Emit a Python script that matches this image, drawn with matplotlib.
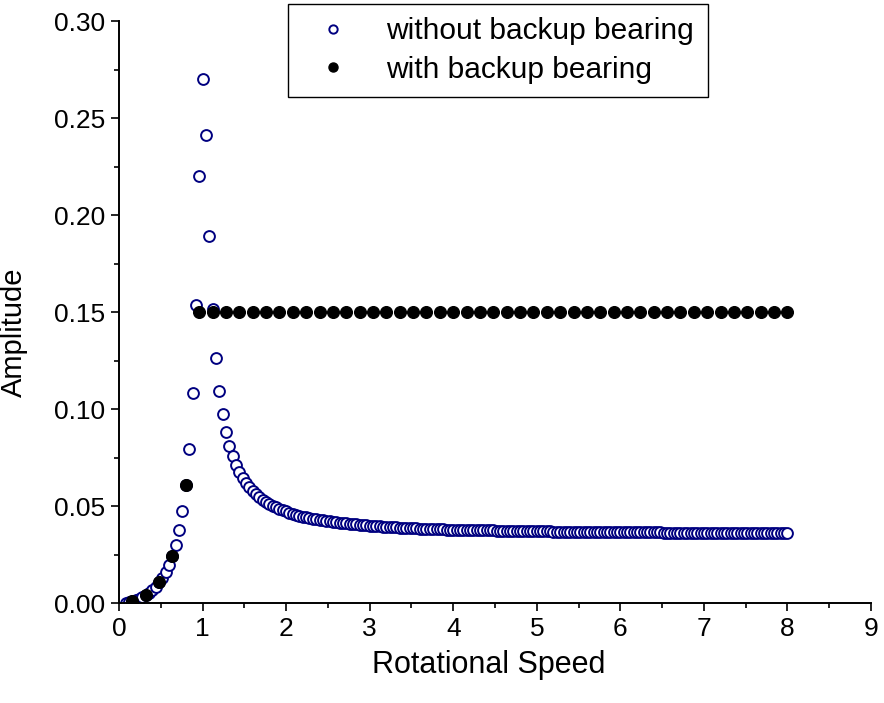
import matplotlib
matplotlib.use('Agg')
import matplotlib.pyplot as plt
from matplotlib.ticker import MultipleLocator, FormatStrFormatter

plt.rcParams['font.family'] = ['Liberation Sans', 'DejaVu Sans']

# amplitude without backup bearing (open circles)
x_open = [0.08, 0.12, 0.16, 0.20, 0.24, 0.28, 0.32, 0.36, 0.40, 0.44,
          0.48, 0.52, 0.56, 0.60, 0.64, 0.68, 0.72, 0.76, 0.80, 0.84,
          0.88, 0.92, 0.96, 1.00, 1.04, 1.08, 1.12, 1.16, 1.20, 1.24,
          1.28, 1.32, 1.36, 1.40, 1.44, 1.48, 1.52, 1.56, 1.60, 1.64,
          1.68, 1.72, 1.76, 1.80, 1.84, 1.88, 1.92, 1.96, 2.00, 2.04,
          2.08, 2.12, 2.16, 2.20, 2.24, 2.28, 2.32, 2.36, 2.40, 2.44,
          2.48, 2.52, 2.56, 2.60, 2.64, 2.68, 2.72, 2.76, 2.80, 2.84,
          2.88, 2.92, 2.96, 3.00, 3.04, 3.08, 3.12, 3.16, 3.20, 3.24,
          3.28, 3.32, 3.36, 3.40, 3.44, 3.48, 3.52, 3.56, 3.60, 3.64,
          3.68, 3.72, 3.76, 3.80, 3.84, 3.88, 3.92, 3.96, 4.00, 4.04,
          4.08, 4.12, 4.16, 4.20, 4.24, 4.28, 4.32, 4.36, 4.40, 4.44,
          4.48, 4.52, 4.56, 4.60, 4.64, 4.68, 4.72, 4.76, 4.80, 4.84,
          4.88, 4.92, 4.96, 5.00, 5.04, 5.08, 5.12, 5.16, 5.20, 5.24,
          5.28, 5.32, 5.36, 5.40, 5.44, 5.48, 5.52, 5.56, 5.60, 5.64,
          5.68, 5.72, 5.76, 5.80, 5.84, 5.88, 5.92, 5.96, 6.00, 6.04,
          6.08, 6.12, 6.16, 6.20, 6.24, 6.28, 6.32, 6.36, 6.40, 6.44,
          6.48, 6.52, 6.56, 6.60, 6.64, 6.68, 6.72, 6.76, 6.80, 6.84,
          6.88, 6.92, 6.96, 7.00, 7.04, 7.08, 7.12, 7.16, 7.20, 7.24,
          7.28, 7.32, 7.36, 7.40, 7.44, 7.48, 7.52, 7.56, 7.60, 7.64,
          7.68, 7.72, 7.76, 7.80, 7.84, 7.88, 7.92, 7.96, 8.00]
y_open = [0.0002, 0.0005, 0.0009, 0.0015, 0.0022, 0.0030, 0.0040, 0.0053, 0.0067, 0.0085,
          0.0106, 0.0131, 0.0161, 0.0198, 0.0244, 0.0301, 0.0375, 0.0472, 0.0606, 0.0796,
          0.1084, 0.1537, 0.2201, 0.2699, 0.2411, 0.1893, 0.1515, 0.1264, 0.1094, 0.0972,
          0.0881, 0.0811, 0.0756, 0.0712, 0.0675, 0.0645, 0.0619, 0.0597, 0.0577, 0.0561,
          0.0546, 0.0533, 0.0521, 0.0511, 0.0501, 0.0493, 0.0485, 0.0478, 0.0472, 0.0466,
          0.0460, 0.0455, 0.0450, 0.0446, 0.0442, 0.0438, 0.0435, 0.0432, 0.0429, 0.0426,
          0.0423, 0.0421, 0.0418, 0.0416, 0.0414, 0.0412, 0.0410, 0.0408, 0.0406, 0.0405,
          0.0403, 0.0402, 0.0400, 0.0399, 0.0398, 0.0396, 0.0395, 0.0394, 0.0393, 0.0392,
          0.0391, 0.0390, 0.0389, 0.0388, 0.0387, 0.0387, 0.0386, 0.0385, 0.0384, 0.0384,
          0.0383, 0.0382, 0.0382, 0.0381, 0.0381, 0.0380, 0.0379, 0.0379, 0.0378, 0.0378,
          0.0377, 0.0377, 0.0377, 0.0376, 0.0376, 0.0375, 0.0375, 0.0375, 0.0374, 0.0374,
          0.0374, 0.0373, 0.0373, 0.0373, 0.0372, 0.0372, 0.0372, 0.0371, 0.0371, 0.0371,
          0.0371, 0.0370, 0.0370, 0.0370, 0.0369, 0.0369, 0.0369, 0.0369, 0.0368, 0.0368,
          0.0368, 0.0368, 0.0368, 0.0367, 0.0367, 0.0367, 0.0367, 0.0367, 0.0367, 0.0366,
          0.0366, 0.0366, 0.0366, 0.0366, 0.0366, 0.0365, 0.0365, 0.0365, 0.0365, 0.0365,
          0.0365, 0.0365, 0.0364, 0.0364, 0.0364, 0.0364, 0.0364, 0.0364, 0.0364, 0.0364,
          0.0364, 0.0363, 0.0363, 0.0363, 0.0363, 0.0363, 0.0363, 0.0363, 0.0363, 0.0363,
          0.0363, 0.0362, 0.0362, 0.0362, 0.0362, 0.0362, 0.0362, 0.0362, 0.0362, 0.0362,
          0.0362, 0.0362, 0.0362, 0.0361, 0.0361, 0.0361, 0.0361, 0.0361, 0.0361, 0.0361,
          0.0361, 0.0361, 0.0361, 0.0361, 0.0361, 0.0361, 0.0361, 0.0361, 0.0360]

# amplitude with backup bearing (filled circles)
x_filled = [0.16, 0.32, 0.48, 0.64, 0.80, 0.96, 1.12, 1.28, 1.44, 1.60,
            1.76, 1.92, 2.08, 2.24, 2.40, 2.56, 2.72, 2.88, 3.04, 3.20,
            3.36, 3.52, 3.68, 3.84, 4.00, 4.16, 4.32, 4.48, 4.64, 4.80,
            4.96, 5.12, 5.28, 5.44, 5.60, 5.76, 5.92, 6.08, 6.24, 6.40,
            6.56, 6.72, 6.88, 7.04, 7.20, 7.36, 7.52, 7.68, 7.84, 8.00]
y_filled = [0.0009, 0.0040, 0.0106, 0.0244, 0.0606, 0.15, 0.15, 0.15, 0.15, 0.15,
            0.15, 0.15, 0.15, 0.15, 0.15, 0.15, 0.15, 0.15, 0.15, 0.15,
            0.15, 0.15, 0.15, 0.15, 0.15, 0.15, 0.15, 0.15, 0.15, 0.15,
            0.15, 0.15, 0.15, 0.15, 0.15, 0.15, 0.15, 0.15, 0.15, 0.15,
            0.15, 0.15, 0.15, 0.15, 0.15, 0.15, 0.15, 0.15, 0.15, 0.15]

fig = plt.figure(figsize=(8.84, 7.03), dpi=100)
ax = fig.add_axes([0.1346, 0.1422, 0.8507, 0.8279])

ax.plot(x_open, y_open, linestyle='none', marker='o', markersize=7.8,
        markerfacecolor='white', markeredgecolor='#000080', markeredgewidth=1.4,
        label='without backup bearing', zorder=2)
ax.plot(x_filled, y_filled, linestyle='none', marker='o', markersize=8.4,
        color='black', label='with backup bearing', zorder=3)

ax.set_xlim(0, 9)
ax.set_ylim(0, 0.30)
ax.xaxis.set_major_locator(MultipleLocator(1))
ax.xaxis.set_minor_locator(MultipleLocator(0.5))
ax.yaxis.set_major_locator(MultipleLocator(0.05))
ax.yaxis.set_minor_locator(MultipleLocator(0.025))
ax.yaxis.set_major_formatter(FormatStrFormatter('%.2f'))

for side in ['top', 'right']:
    ax.spines[side].set_visible(False)
for side in ['left', 'bottom']:
    ax.spines[side].set_linewidth(1.4)
ax.tick_params(which='major', direction='out', length=6, width=1.2, labelsize=19, pad=4)
ax.tick_params(which='minor', direction='out', length=3.5, width=1.2)

ax.set_xlabel('Rotational Speed', fontsize=22)
ax.set_ylabel('Amplitude', fontsize=21)
ax.xaxis.set_label_coords(0.492, -0.08)
ax.yaxis.set_label_coords(-0.121, 0.466)

leg = ax.legend(loc='upper left', bbox_to_anchor=(288 / 884, 1 - 4 / 703),
                bbox_transform=fig.transFigure, numpoints=1, fontsize=21.5,
                frameon=True, fancybox=False, framealpha=1, edgecolor='black',
                borderpad=0.45, labelspacing=0.35, handlelength=2.1, handletextpad=0.75,
                borderaxespad=0)
leg.get_frame().set_linewidth(1.0)
leg.legend_handles[0].set_markersize(6)
leg.legend_handles[1].set_markersize(6.5)

fig.savefig('out.png', dpi=100)
